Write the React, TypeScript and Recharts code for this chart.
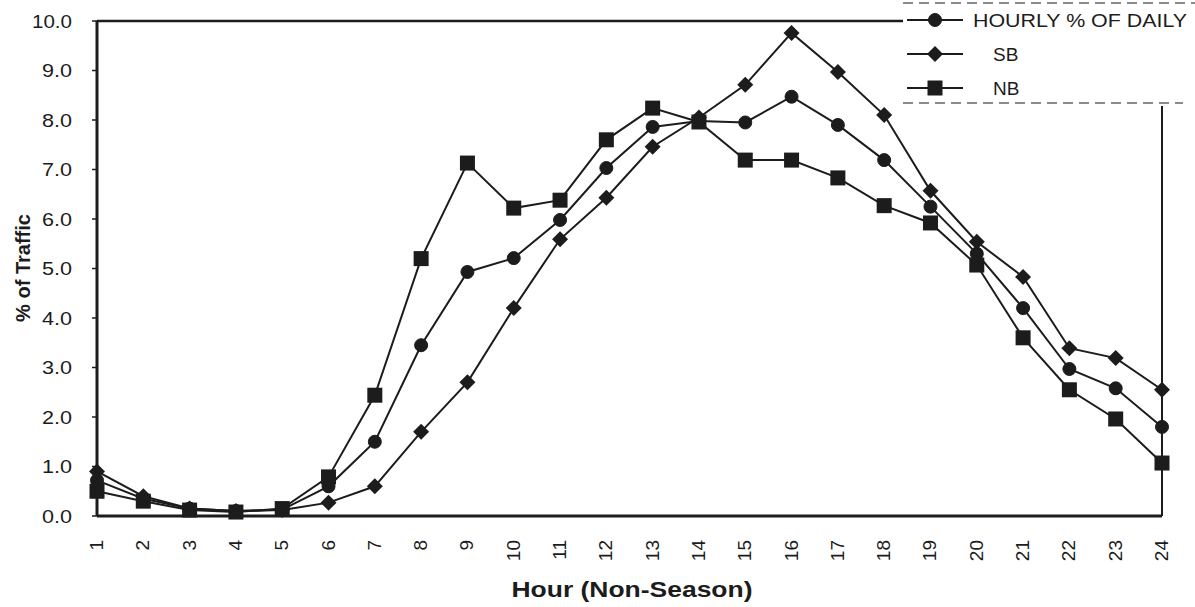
import { LineChart, Line, XAxis, YAxis, ReferenceLine, Legend } from 'recharts';

// hour of day 1..24
const hours = [1, 2, 3, 4, 5, 6, 7, 8, 9, 10, 11, 12, 13, 14, 15, 16, 17, 18, 19, 20, 21, 22, 23, 24];
const hourly = [0.72, 0.35, 0.15, 0.1, 0.13, 0.6, 1.5, 3.45, 4.93, 5.21, 5.98, 7.03, 7.86, 7.98, 7.95, 8.47, 7.9, 7.19, 6.25, 5.3, 4.2, 2.97, 2.58, 1.8];
const sb = [0.9, 0.4, 0.15, 0.1, 0.12, 0.27, 0.6, 1.7, 2.7, 4.2, 5.59, 6.43, 7.46, 8.05, 8.71, 9.76, 8.97, 8.1, 6.57, 5.54, 4.83, 3.39, 3.19, 2.55];
const nb = [0.5, 0.3, 0.12, 0.08, 0.15, 0.79, 2.44, 5.2, 7.13, 6.22, 6.38, 7.6, 8.24, 7.96, 7.19, 7.19, 6.83, 6.27, 5.92, 5.07, 3.6, 2.55, 1.96, 1.07];
const yTicks = [0, 1, 2, 3, 4, 5, 6, 7, 8, 9, 10];
const seriesNames = ['HOURLY % OF DAILY', 'SB', 'NB'];

const data = hours.map((h, i) => ({ hour: h, hourly: hourly[i], sb: sb[i], nb: nb[i] }));

const INK = '#1c1c1c';
const FONT = 'Arial, "Liberation Sans", sans-serif';

const marker = (kind: string, cx: number, cy: number, key?: any) => {
  if (kind === 'circle') return <circle key={key} cx={cx} cy={cy} r={6.5} fill={INK} stroke={INK} />;
  if (kind === 'diamond')
    return <polygon key={key} points={`${cx},${cy - 8} ${cx + 8},${cy} ${cx},${cy + 8} ${cx - 8},${cy}`} fill={INK} />;
  return <rect key={key} x={cx - 7.5} y={cy - 7.5} width={15} height={15} fill={INK} />;
};

const dotFor = (kind: string) => (props: any) => marker(kind, props.cx, props.cy, props.key ?? `${kind}-${props.index}`);

const HourTick = ({ x, payload }: any) => (
  <text transform={`translate(${x + 6},540) rotate(-90)`} textAnchor="end" fontSize={19} fontFamily={FONT} fill={INK}>
    {payload.value}
  </text>
);

const PctTick = ({ y, payload }: any) => (
  <text x={72} y={y} textAnchor="end" dominantBaseline="central" fontSize={19} fontFamily={FONT} fill={INK}
    textLength={payload.value === 10 ? 40 : 30} lengthAdjust="spacingAndGlyphs">
    {payload.value.toFixed(1)}
  </text>
);

const kinds = ['circle', 'diamond', 'square'];

const LegendBox = () => (
  <svg width={292} height={106}>
    <line x1={0} y1={3} x2={292} y2={3} stroke="#666" strokeWidth={1.5} strokeDasharray="10 6" />
    <line x1={0} y1={103} x2={280} y2={103} stroke="#666" strokeWidth={1.5} strokeDasharray="10 6" />
    {seriesNames.map((name, i) => {
      const y = 20 + i * 34;
      return (
        <g key={name}>
          <line x1={4} y1={y} x2={60} y2={y} stroke={INK} strokeWidth={2} />
          {marker(kinds[i], 32, y)}
          <text
            x={i === 0 ? 70 : 90}
            y={y}
            dominantBaseline="central"
            fontSize={19}
            fontFamily={FONT}
            fill={INK}
            {...(i === 0 ? { textLength: 214, lengthAdjust: 'spacingAndGlyphs' } : {})}
          >
            {name}
          </text>
        </g>
      );
    })}
  </svg>
);

export default function App() {
  return (
    <div style={{ position: 'absolute', left: 0, top: 0, width: 1195, height: 607, background: '#fff' }}>
      <LineChart width={1195} height={607} data={data} margin={{ top: 21, right: 33, bottom: 0, left: 0 }}>
        <XAxis
          dataKey="hour"
          type="number"
          domain={[1, 24]}
          ticks={hours}
          interval={0}
          tick={<HourTick />}
          tickLine={false}
          axisLine={{ stroke: INK, strokeWidth: 3 }}
          height={91}
          label={{
            content: () => (
              <text x={632} y={597} textAnchor="middle" fontSize={22} fontWeight="bold" fontFamily={FONT} fill={INK} textLength={241} lengthAdjust="spacingAndGlyphs">
                Hour (Non-Season)
              </text>
            ),
          }}
        />
        <YAxis
          type="number"
          domain={[0, 10]}
          ticks={yTicks}
          interval={0}
          width={97}
          tick={<PctTick />}
          tickSize={5}
          tickLine={{ stroke: INK, strokeWidth: 1.5 }}
          axisLine={{ stroke: INK, strokeWidth: 3 }}
          label={{
            content: () => (
              <text transform="translate(30,268) rotate(-90)" textAnchor="middle" fontSize={20} fontWeight="bold" fontFamily={FONT} fill={INK}>
                % of Traffic
              </text>
            ),
          }}
        />
        <ReferenceLine y={10} stroke={INK} strokeWidth={2.5} />
        <ReferenceLine x={24} stroke={INK} strokeWidth={2} />
        <Line dataKey="hourly" name={seriesNames[0]} stroke={INK} strokeWidth={2} dot={dotFor('circle')} isAnimationActive={false} />
        <Line dataKey="sb" name={seriesNames[1]} stroke={INK} strokeWidth={2} dot={dotFor('diamond')} isAnimationActive={false} />
        <Line dataKey="nb" name={seriesNames[2]} stroke={INK} strokeWidth={2} dot={dotFor('square')} isAnimationActive={false} />
        <Legend
          layout="vertical"
          align="center"
          verticalAlign="middle"
          content={() => <LegendBox />}
          wrapperStyle={{ position: 'absolute', left: 903, top: 0, width: 292, height: 106, background: '#fff' }}
        />
      </LineChart>
    </div>
  );
}
